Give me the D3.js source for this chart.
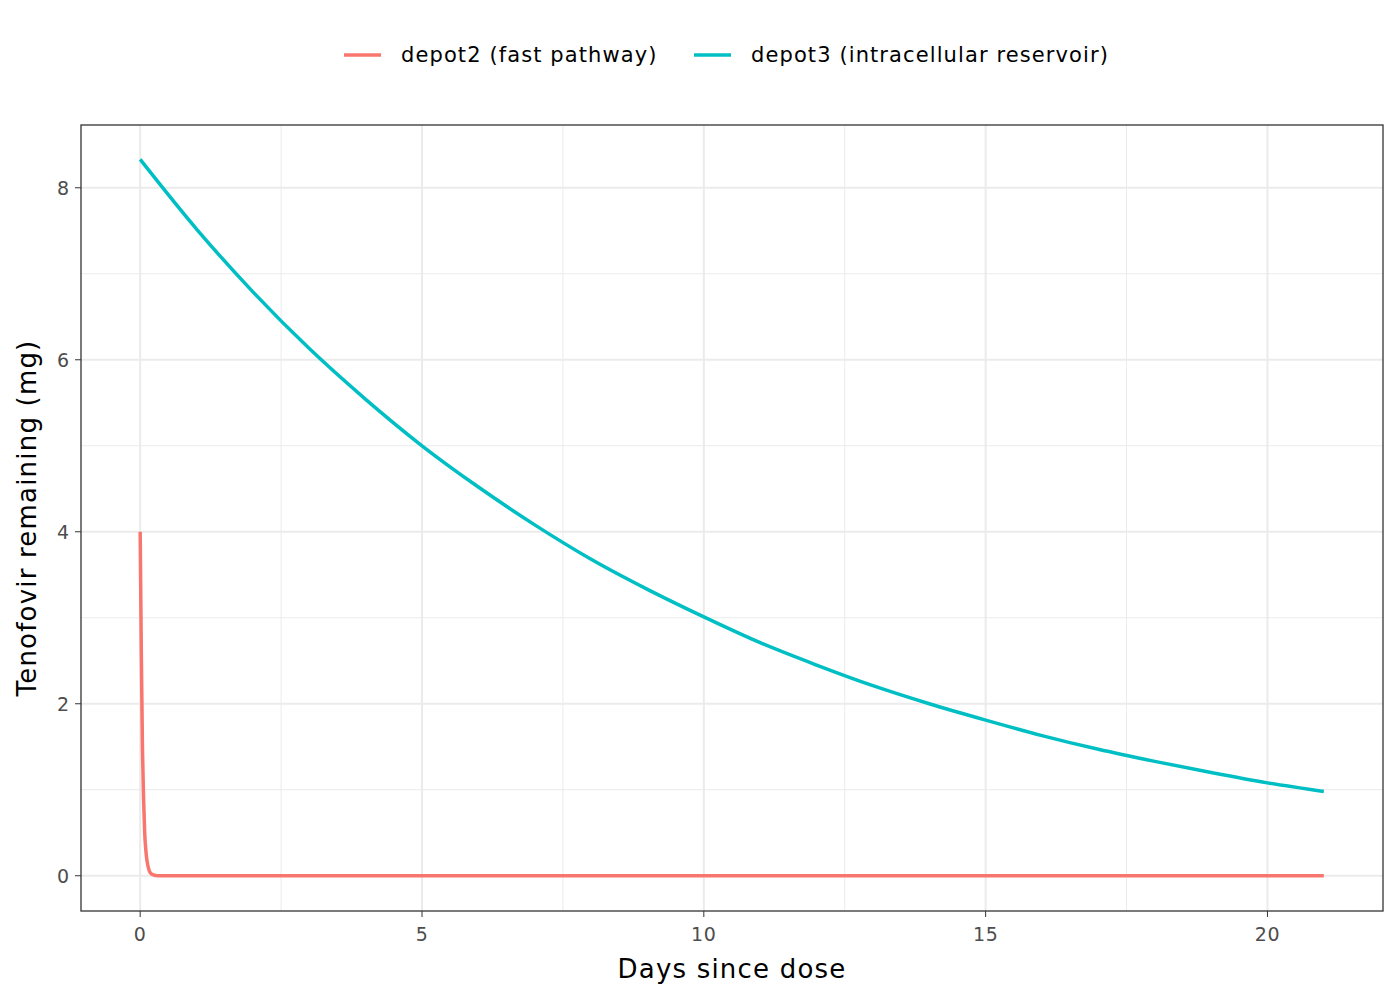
<!DOCTYPE html><html><head><script src="https://cdn.jsdelivr.net/npm/d3@7"></script>
<style>body{margin:0;background:#fff}text{font-family:"DejaVu Sans",sans-serif}</style></head><body><svg id="c" width="1400" height="1000"></svg><script>
const days3=[0,1,2,3,4,5,6,7,8,9,10,11,12,13,14,15,16,17,18,19,20,21];
const depot3=[8.33,7.52,6.79,6.13,5.54,5.00,4.52,4.08,3.68,3.33,3.01,2.71,2.45,2.21,2.00,1.81,1.63,1.47,1.33,1.20,1.08,0.98];
const days2=[0,0.02,0.04,0.06,0.08,0.1,0.15,0.2,0.3,21];
const depot2=[4.0,2.6,1.5,0.9,0.5,0.3,0.08,0.02,0,0];
const xTicks=[0,5,10,15,20], yTicks=[0,2,4,6,8];
const series=[{name:"depot2 (fast pathway)",color:"#F8766D",x:days2,y:depot2},{name:"depot3 (intracellular reservoir)",color:"#00BFC4",x:days3,y:depot3}];
const L=81,R=1383,T=125,B=911;
const x=d3.scaleLinear().domain([-1.05,22.05]).range([L,R]);
const y=d3.scaleLinear().domain([-0.41,8.73]).range([B,T]);
const svg=d3.select("#c");
const g=svg.append("g");
[2.5,7.5,12.5,17.5].forEach(v=>g.append("line").attr("x1",x(v)).attr("x2",x(v)).attr("y1",T).attr("y2",B).attr("stroke","#ebebeb").attr("stroke-width",1));
[1,3,5,7].forEach(v=>g.append("line").attr("y1",y(v)).attr("y2",y(v)).attr("x1",L).attr("x2",R).attr("stroke","#ebebeb").attr("stroke-width",1));
xTicks.forEach(v=>g.append("line").attr("x1",x(v)).attr("x2",x(v)).attr("y1",T).attr("y2",B).attr("stroke","#ebebeb").attr("stroke-width",2));
yTicks.forEach(v=>g.append("line").attr("y1",y(v)).attr("y2",y(v)).attr("x1",L).attr("x2",R).attr("stroke","#ebebeb").attr("stroke-width",2));
const line=d3.line().curve(d3.curveMonotoneX);
series.forEach(s=>g.append("path").attr("d",line(s.x.map((d,i)=>[x(d),y(s.y[i])]))).attr("fill","none").attr("stroke",s.color).attr("stroke-width",3.5));
g.append("rect").attr("x",L).attr("y",T).attr("width",R-L).attr("height",B-T).attr("fill","none").attr("stroke","#333").attr("stroke-width",1.3);
xTicks.forEach(v=>{g.append("line").attr("x1",x(v)).attr("x2",x(v)).attr("y1",B).attr("y2",B+6).attr("stroke","#333");
g.append("text").attr("x",x(v)).attr("y",B+30).attr("text-anchor","middle").attr("font-size",19).attr("letter-spacing",0.6).attr("fill","#4d4d4d").text(v);});
yTicks.forEach(v=>{g.append("line").attr("x1",L-6).attr("x2",L).attr("y1",y(v)).attr("y2",y(v)).attr("stroke","#333");
g.append("text").attr("x",L-12).attr("y",y(v)+7).attr("text-anchor","end").attr("font-size",19).attr("fill","#4d4d4d").text(v);});
svg.append("text").attr("x",(L+R)/2).attr("y",978).attr("text-anchor","middle").attr("font-size",26).attr("letter-spacing",1.2).text("Days since dose");
svg.append("text").attr("transform",`translate(36,${(T+B)/2}) rotate(-90)`).attr("text-anchor","middle").attr("font-size",26).attr("letter-spacing",1.2).text("Tenofovir remaining (mg)");
const lx=[344,694];
series.forEach((s,i)=>{svg.append("line").attr("x1",lx[i]).attr("x2",lx[i]+37).attr("y1",55).attr("y2",55).attr("stroke",s.color).attr("stroke-width",3.5);
svg.append("text").attr("x",lx[i]+57).attr("y",62).attr("font-size",21).attr("letter-spacing",1.1).text(s.name);});
</script></body></html>
